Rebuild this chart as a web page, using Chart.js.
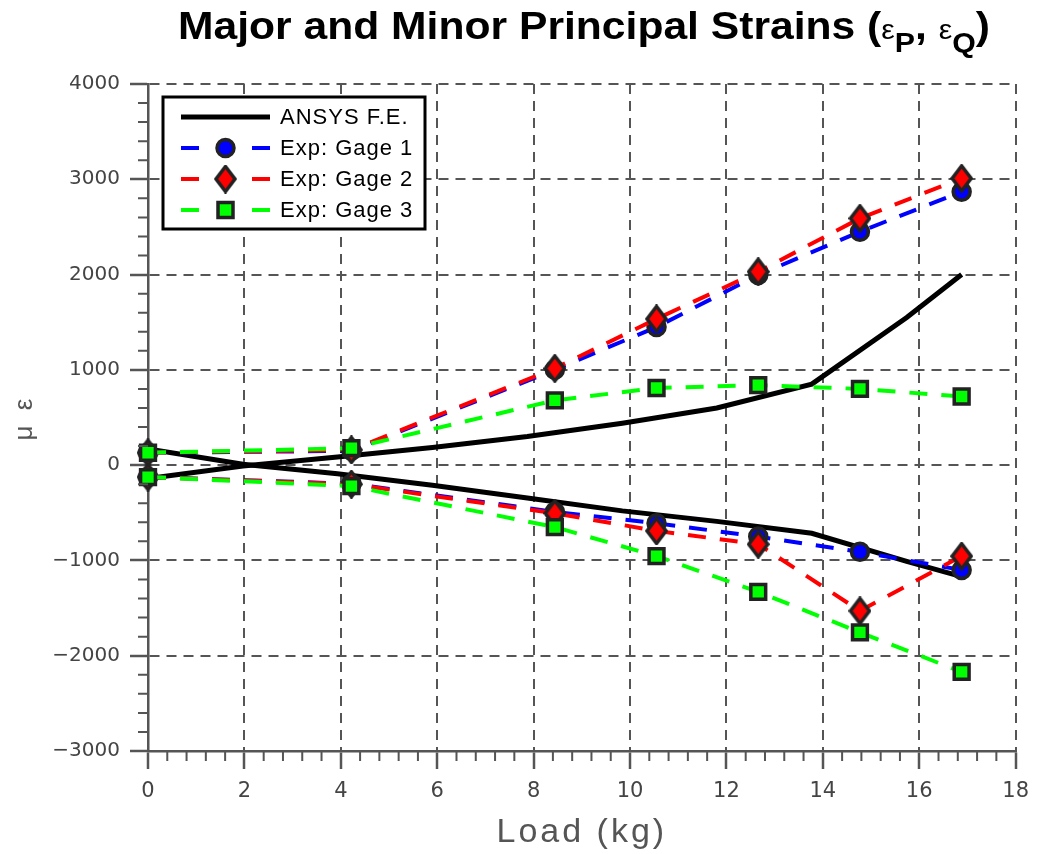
<!DOCTYPE html>
<html>
<head>
<meta charset="utf-8">
<script src="https://cdn.jsdelivr.net/npm/chart.js@4.4.0/dist/chart.umd.min.js"></script>
<style>
  html, body { margin: 0; padding: 0; background: #fff; }
  #wrap { position: relative; width: 1039px; height: 854px; }
  canvas { position: absolute; left: 0; top: 0; }
  #title {
    position: absolute; left: 178px; top: 4px; white-space: nowrap;
    font-family: "Liberation Sans", Arial, sans-serif; font-weight: bold;
    font-size: 38px; color: #000; transform-origin: 0 0; line-height: 44px;
  }
  #title .eps { font-weight: normal; font-size: 27px; }
  #title sub { font-size: 27px; vertical-align: -13px; line-height: 0; }
</style>
</head>
<body>
<div id="wrap">
  <canvas id="chart" width="1039" height="854"></canvas>
  <div id="title">Major and Minor Principal Strains (<span class="eps">ε</span><sub>P</sub>, <span class="eps">ε</span><sub>Q</sub>)</div>
</div>
<script>
// load steps of the experiment (kg)
const loads = [0, 4.22, 8.44, 10.55, 12.66, 14.77, 16.88];
// load steps of the F.E. model (kg)
const ansysLoads = [0, 1.97, 3.93, 5.9, 7.87, 9.84, 11.8, 13.77, 15.74, 16.88];

const ansysMajor = [-140, -10, 85, 185, 300, 440, 600, 850, 1550, 2000];
const ansysMinor = [170, 10, -90, -210, -345, -480, -590, -715, -1010, -1170];

const gage1Major = [130, 150, 1000, 1450, 1995, 2450, 2870];
const gage1Minor = [-125, -195, -490, -610, -750, -910, -1100];
const gage2Major = [130, 160, 1015, 1535, 2030, 2590, 3010];
const gage2Minor = [-125, -200, -505, -690, -830, -1530, -955];
const gage3Major = [130, 178, 680, 810, 840, 800, 720];
const gage3Minor = [-125, -220, -650, -955, -1330, -1755, -2170];

const xTicks = { min: 0, max: 18, step: 2, minor: 0.4 };
const yTicks = { min: -3000, max: 4000, step: 1000, minor: 200 };

const legendLabels = ['ANSYS F.E.', 'Exp: Gage 1', 'Exp: Gage 2', 'Exp: Gage 3'];

const gray = '#555';
const edge = '#222';
const colors = { ansys: '#000', g1: '#0000ff', g2: '#ff0000', g3: '#00ff00' };

// MATLAB style diamond (taller than wide)
function makeDiamond(fill) {
  const w = 23, h = 29;
  const c = document.createElement('canvas');
  c.width = w; c.height = h;
  const g = c.getContext('2d');
  g.beginPath();
  g.moveTo(w / 2, 2); g.lineTo(w - 2, h / 2); g.lineTo(w / 2, h - 2); g.lineTo(2, h / 2);
  g.closePath();
  g.fillStyle = fill; g.fill();
  g.lineWidth = 3.5; g.strokeStyle = edge; g.lineJoin = 'miter'; g.stroke();
  return c;
}
const diamond = makeDiamond(colors.g2);

const pts = (xs, ys) => xs.map((x, i) => ({ x: x, y: ys[i] }));

function ansysSet(ys) {
  return {
    label: 'ANSYS F.E.', data: pts(ansysLoads, ys), showLine: true,
    borderColor: colors.ansys, borderWidth: 5, pointRadius: 0, order: 4
  };
}
function gageSet(label, ys, color, style, radius, order) {
  return {
    label: label, data: pts(loads, ys), showLine: true, clip: false,
    borderColor: color, borderWidth: 4, borderDash: [18, 14],
    pointStyle: style, pointRadius: radius, pointBackgroundColor: color,
    pointBorderColor: edge, pointBorderWidth: 3.5, order: order
  };
}

const minorTicks = {
  id: 'minorTicks',
  afterDraw(chart) {
    const { ctx, chartArea } = chart;
    const xs = chart.scales.x, ys = chart.scales.y;
    ctx.save();
    ctx.strokeStyle = gray; ctx.lineWidth = 2;
    ctx.beginPath();
    const nx = Math.round((xTicks.max - xTicks.min) / xTicks.minor);
    for (let i = 0; i <= nx; i++) {
      if (i % 5 === 0) continue;
      const px = xs.getPixelForValue(xTicks.min + i * xTicks.minor);
      ctx.moveTo(px, chartArea.bottom); ctx.lineTo(px, chartArea.bottom + 10);
    }
    const ny = Math.round((yTicks.max - yTicks.min) / yTicks.minor);
    for (let i = 0; i <= ny; i++) {
      if (i % 5 === 0) continue;
      const py = ys.getPixelForValue(yTicks.min + i * yTicks.minor);
      ctx.moveTo(chartArea.left - 10, py); ctx.lineTo(chartArea.left, py);
    }
    ctx.stroke();

    // axis titles
    ctx.fillStyle = gray;
    ctx.textAlign = 'center';
    ctx.font = '34px "Liberation Sans", Arial, sans-serif';
    ctx.letterSpacing = '3px';
    ctx.textBaseline = 'alphabetic';
    ctx.fillText('Load (kg)', (chartArea.left + chartArea.right) / 2, 842);
    ctx.translate(25, (chartArea.top + chartArea.bottom) / 2);
    ctx.rotate(-Math.PI / 2);
    ctx.textBaseline = 'middle';
    ctx.font = '26px "Liberation Sans", Arial, sans-serif';
    ctx.letterSpacing = '4px';
    ctx.fillText('μ ε', 0, 0);
    ctx.restore();
  }
};

const boxLegend = {
  id: 'boxLegend',
  afterDraw(chart) {
    const ctx = chart.ctx;
    const left = chart.chartArea.left + 15, top = chart.chartArea.top + 13;
    const w = 262, h = 132;
    ctx.save();
    ctx.fillStyle = '#fff'; ctx.fillRect(left, top, w, h);
    ctx.lineWidth = 3; ctx.strokeStyle = '#000'; ctx.strokeRect(left, top, w, h);
    const lineColors = [colors.ansys, colors.g1, colors.g2, colors.g3];
    legendLabels.forEach((label, i) => {
      const y = top + 20 + i * 31;
      const x0 = left + 18, x1 = left + 107, xm = left + 62.5;
      ctx.strokeStyle = lineColors[i];
      ctx.beginPath();
      if (i === 0) {
        ctx.lineWidth = 5;
        ctx.moveTo(x0, y); ctx.lineTo(x1, y);
      } else {
        ctx.lineWidth = 4;
        ctx.moveTo(x0, y); ctx.lineTo(x0 + 18, y);
        ctx.moveTo(x1 - 18, y); ctx.lineTo(x1, y);
      }
      ctx.stroke();
      ctx.lineWidth = 3.5; ctx.strokeStyle = edge;
      if (i === 1) {
        ctx.beginPath(); ctx.arc(xm, y, 8.5, 0, Math.PI * 2);
        ctx.fillStyle = colors.g1; ctx.fill(); ctx.stroke();
      } else if (i === 2) {
        ctx.drawImage(diamond, xm - diamond.width / 2, y - diamond.height / 2);
      } else if (i === 3) {
        ctx.fillStyle = colors.g3;
        ctx.fillRect(xm - 7.5, y - 7.5, 15, 15); ctx.strokeRect(xm - 7.5, y - 7.5, 15, 15);
      }
      ctx.fillStyle = '#000';
      ctx.font = '22px "Liberation Sans", Arial, sans-serif';
      ctx.letterSpacing = '1px';
      ctx.textAlign = 'left'; ctx.textBaseline = 'middle';
      ctx.fillText(label, left + 117, y + 1);
    });
    ctx.restore();
  }
};

new Chart(document.getElementById('chart'), {
  type: 'scatter',
  data: {
    datasets: [
      ansysSet(ansysMajor),
      ansysSet(ansysMinor),
      gageSet('Exp: Gage 1', gage1Major, colors.g1, 'circle', 8.5, 3),
      gageSet('Exp: Gage 1', gage1Minor, colors.g1, 'circle', 8.5, 3),
      gageSet('Exp: Gage 2', gage2Major, colors.g2, diamond, 12, 2),
      gageSet('Exp: Gage 2', gage2Minor, colors.g2, diamond, 12, 2),
      gageSet('Exp: Gage 3', gage3Major, colors.g3, 'rect', 10.5, 1),
      gageSet('Exp: Gage 3', gage3Minor, colors.g3, 'rect', 10.5, 1)
    ]
  },
  options: {
    responsive: false,
    animation: false,
    devicePixelRatio: 1,
    layout: { padding: { top: 84, right: 19, left: 0, bottom: 0 } },
    plugins: { legend: { display: false }, tooltip: { enabled: false }, title: { display: false } },
    scales: {
      x: {
        type: 'linear', min: xTicks.min, max: xTicks.max,
        afterFit: s => { s.height = 103; },
        ticks: {
          stepSize: xTicks.step, padding: 10, color: '#444',
          font: { family: '"DejaVu Sans", sans-serif', size: 21 }, maxRotation: 0
        },
        grid: { color: gray, lineWidth: 2, tickLength: 18, tickColor: gray, tickWidth: 2.5 },
        border: { display: true, color: gray, width: 2.5, dash: [10, 7] }
      },
      y: {
        type: 'linear', min: yTicks.min, max: yTicks.max,
        afterFit: s => { s.width = 148; },
        ticks: {
          stepSize: yTicks.step, padding: 10, color: '#444',
          font: { family: '"DejaVu Sans", sans-serif', size: 20 },
          callback: v => String(v).replace('-', '\u2212')
        },
        grid: { color: gray, lineWidth: 2, tickLength: 18, tickColor: gray, tickWidth: 2.5 },
        border: { display: true, color: gray, width: 2.5, dash: [10, 7] }
      }
    }
  },
  plugins: [minorTicks, boxLegend]
});

// squeeze the title into the same width as the original heading
const t = document.getElementById('title');
const tw = t.getBoundingClientRect().width;
t.style.transform = 'scaleX(' + (812 / tw) + ')';
</script>
</body>
</html>
